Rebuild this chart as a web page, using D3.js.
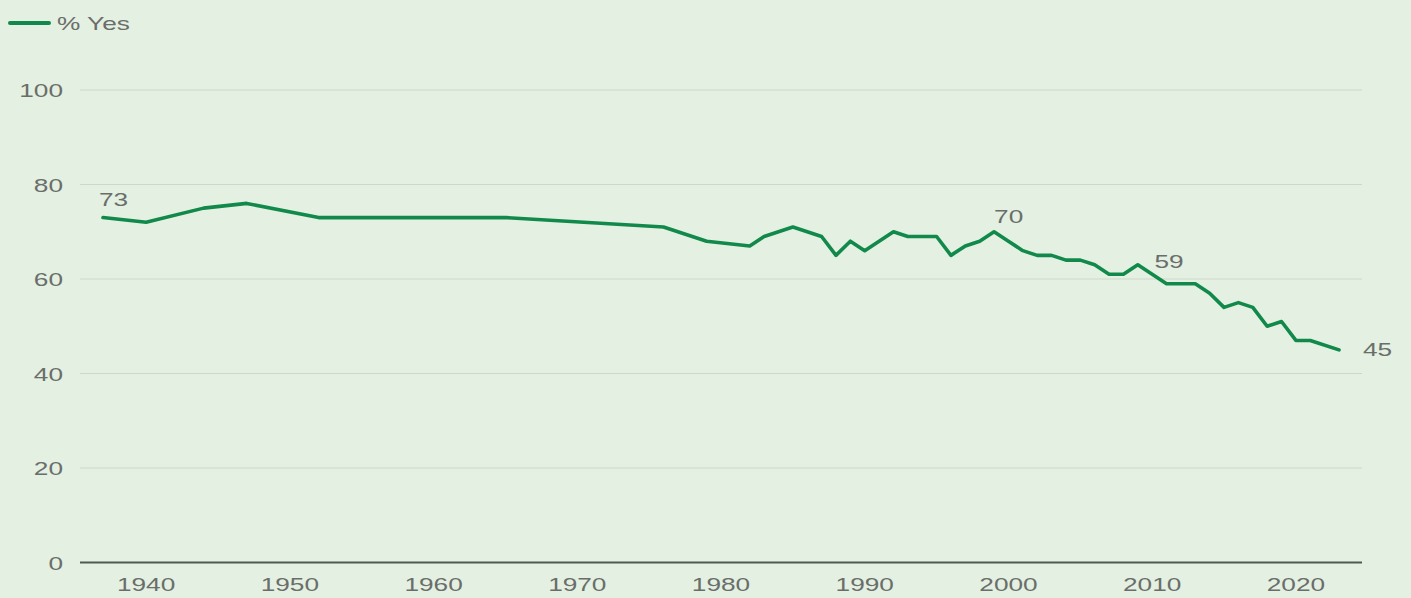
<!DOCTYPE html>
<html>
<head>
<meta charset="utf-8">
<script src="https://cdn.jsdelivr.net/npm/d3@7"></script>
<style>
  html, body { margin: 0; padding: 0; background: #e4f0e2; }
  svg { display: block; }
  text { font-family: "Liberation Sans", Arial, sans-serif; fill: #6a6e6a; }
</style>
</head>
<body>
<svg id="chart" width="1411" height="598"></svg>
<script>
const years = [1937,1940,1944,1947,1952,1965,1976,1979,1982,1983,1985,1987,1988,1989,1990,1992,1993,1995,1996,1997,1998,1999,2000,2001,2002,2003,2004,2005,2006,2007,2008,2009,2010,2011,2012,2013,2014,2015,2016,2017,2018,2019,2020,2021,2023];
const pctYes = [73,72,75,76,73,73,71,68,67,69,71,69,65,68,66,70,69,69,65,67,68,70,68,66,65,65,64,64,63,61,61,63,61,59,59,59,57,54,55,54,50,51,47,47,45];
const seriesName = "% Yes";
const xTicks = [1940,1950,1960,1970,1980,1990,2000,2010,2020];
const yTicks = [0,20,40,60,80,100];
const labelYears = [1937,1999,2011,2023];

const W = 1411, H = 598;
const SX = 1.38; // horizontal text stretch
const svg = d3.select("#chart");
svg.append("rect").attr("width", W).attr("height", H).attr("fill", "#e4f0e2");

const x = d3.scaleLinear().domain([1935.4, 2024.6]).range([80, 1362]);
const y = d3.scaleLinear().domain([0, 100]).range([562.5, 90]);

function stext(g, tx, ty, str, anchor, size) {
  return g.append("text")
    .attr("transform", `translate(${tx},${ty}) scale(${SX},1)`)
    .attr("text-anchor", anchor)
    .attr("font-size", size)
    .text(str);
}

// gridlines
const grid = svg.append("g");
yTicks.forEach(t => {
  grid.append("line")
    .attr("x1", x.range()[0]).attr("x2", x.range()[1])
    .attr("y1", y(t)).attr("y2", y(t))
    .attr("stroke", t === 0 ? "#4e5a50" : "#cdd8cb")
    .attr("stroke-width", t === 0 ? 2.2 : 1);
});

// y tick labels
yTicks.forEach(t => {
  stext(svg, 63, y(t) + 7, String(t), "end", 19);
});

// x tick labels
xTicks.forEach(t => {
  stext(svg, x(t), 591, String(t), "middle", 19);
});

// line
const data = years.map((yr, i) => ({ yr, v: pctYes[i] }));
const line = d3.line().x(d => x(d.yr)).y(d => y(d.v));
svg.append("path")
  .datum(data)
  .attr("d", line)
  .attr("fill", "none")
  .attr("stroke", "#11894a")
  .attr("stroke-width", 3.6)
  .attr("stroke-linejoin", "round")
  .attr("stroke-linecap", "round");

// value annotations
const labelOffsets = {1937: [-4, -12, "start"], 1999: [0, -9, "start"], 2011: [-12, -16, "start"], 2023: [24, 6, "start"]};
labelYears.forEach(yr => {
  const i = years.indexOf(yr);
  const o = labelOffsets[yr];
  stext(svg, x(yr) + o[0], y(pctYes[i]) + o[1], String(pctYes[i]), o[2], 19);
});

// legend
svg.append("line")
  .attr("x1", 10).attr("x2", 49).attr("y1", 23).attr("y2", 23)
  .attr("stroke", "#11894a").attr("stroke-width", 4).attr("stroke-linecap", "round");
stext(svg, 57, 29.5, seriesName, "start", 19);
</script>
</body>
</html>
